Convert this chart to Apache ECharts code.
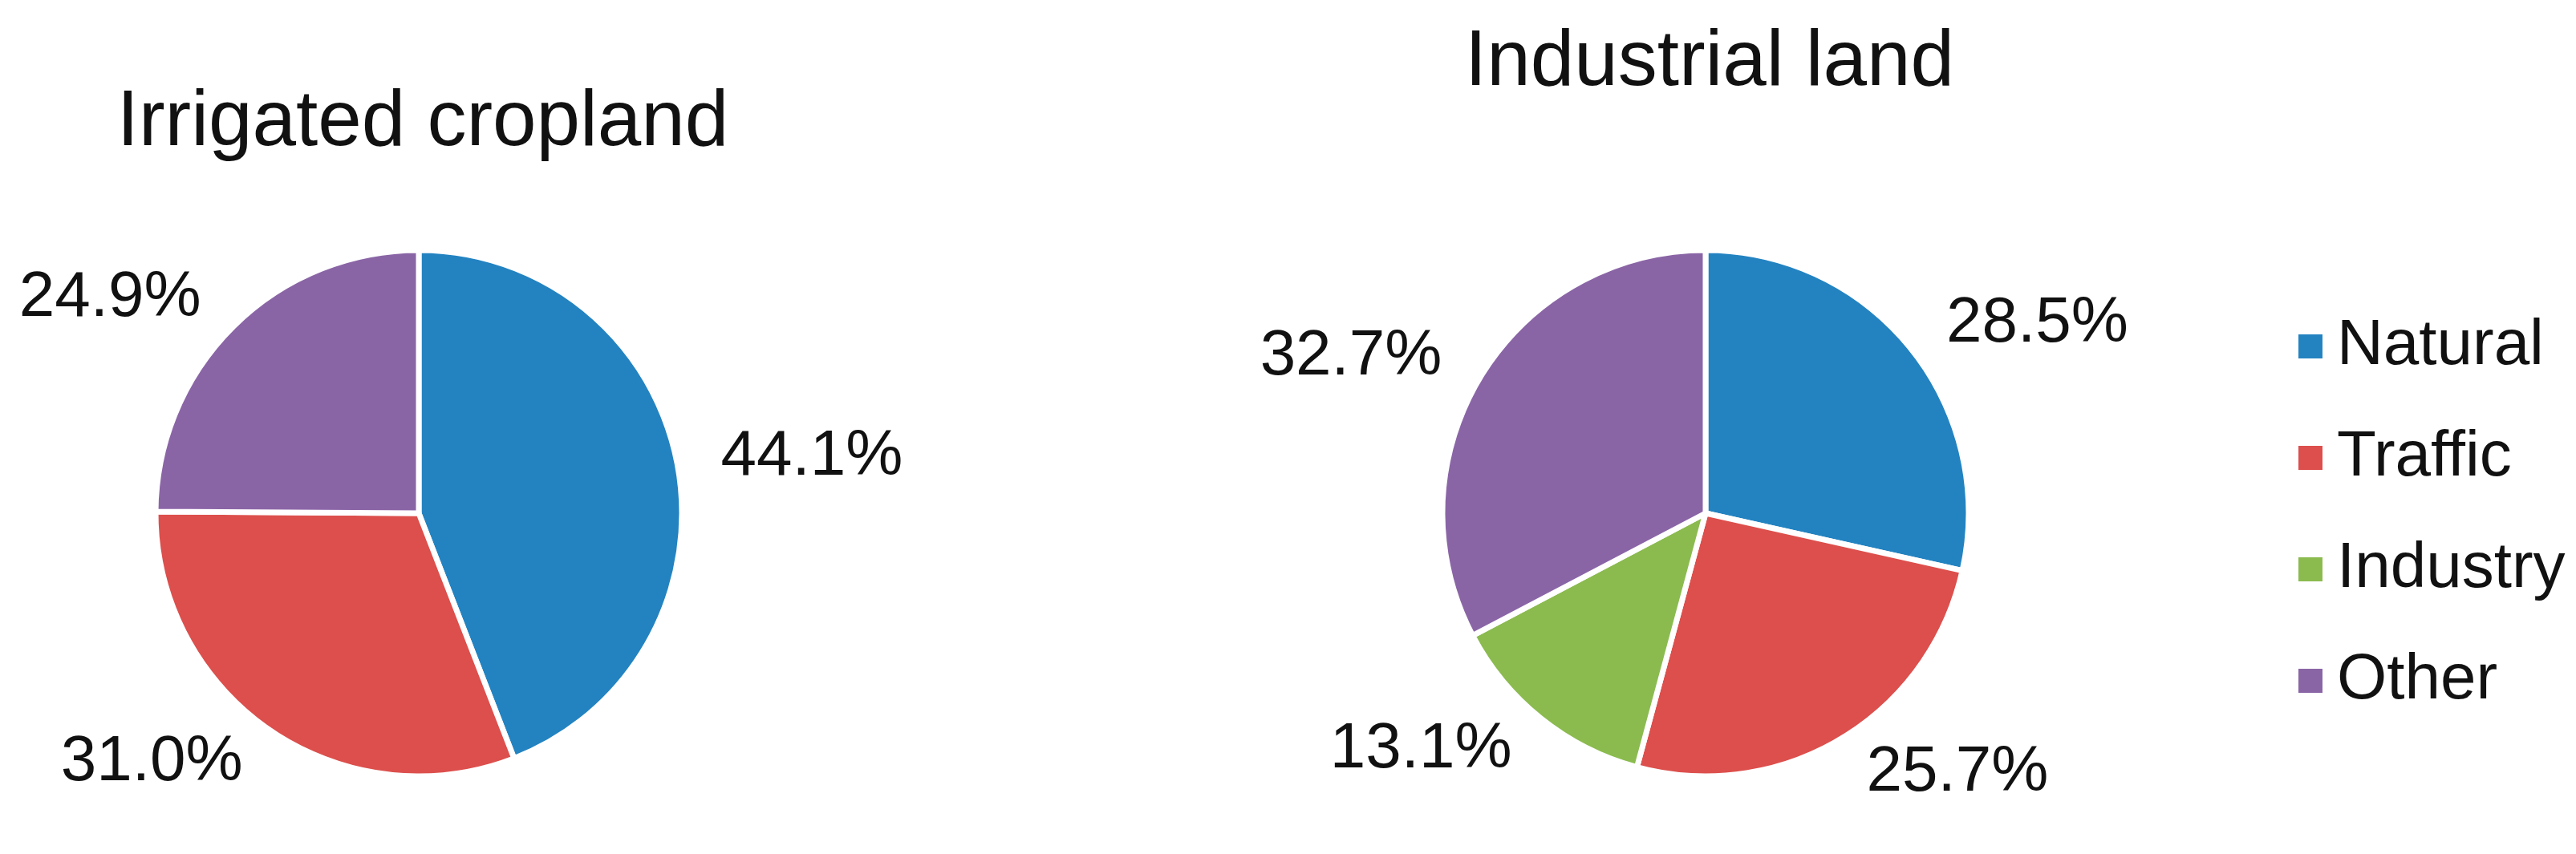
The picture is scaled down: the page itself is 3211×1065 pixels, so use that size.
<!DOCTYPE html>
<html><head><meta charset="utf-8">
<script src="https://cdn.jsdelivr.net/npm/echarts@6/dist/echarts.min.js"></script>
<style>html,body{margin:0;padding:0;background:#fff}#c{width:3211px;height:1065px}</style>
</head><body><div id="c"></div>
<script>
const categories = ['Natural','Traffic','Industry','Other'];
const colors = ['#2383c1','#dc4f4c','#8bbb4f','#8a65a6'];
const irrigated = [44.1, 31.0, 0, 24.9];
const industrial = [28.5, 25.7, 13.1, 32.7];
const titles = ['Irrigated cropland','Industrial land'];

function mk(vals){
  return categories.map((n,i)=>({name:n,value:vals[i],itemStyle:{color:colors[i]}})).filter(d=>d.value>0);
}
const font = 'Arial, Liberation Sans, sans-serif';
function series(vals, cx){
  return {type:'pie', center:[cx,640], radius:328, startAngle:90, clockwise:true,
    data:mk(vals), itemStyle:{borderColor:'#fff',borderWidth:7},
    label:{show:true, position:'outside', fontSize:80, fontFamily:font, color:'#111',
      formatter:p=>p.value.toFixed(1)+'%'},
    labelLine:{show:false, length:50, length2:0}, emphasis:{disabled:true}};
}
const chart = echarts.init(document.getElementById('c'));
chart.setOption({
  animation:false,
  title:[
    {text:titles[0], left:522, top:100, textAlign:'center', textStyle:{fontSize:98,fontWeight:'normal',fontFamily:font,color:'#111'}},
    {text:titles[1], left:2126, top:25, textAlign:'center', textStyle:{fontSize:98,fontWeight:'normal',fontFamily:font,color:'#111'}}
  ],
  legend:{orient:'vertical', left:2858, top:380, itemWidth:32, itemHeight:32, itemGap:45, icon:'rect',
    data:categories, textStyle:{fontSize:80,lineHeight:94,fontFamily:font,color:'#111',padding:[0,0,0,12]}},
  series:[series(irrigated,522), series(industrial,2126)]
});
</script></body></html>
